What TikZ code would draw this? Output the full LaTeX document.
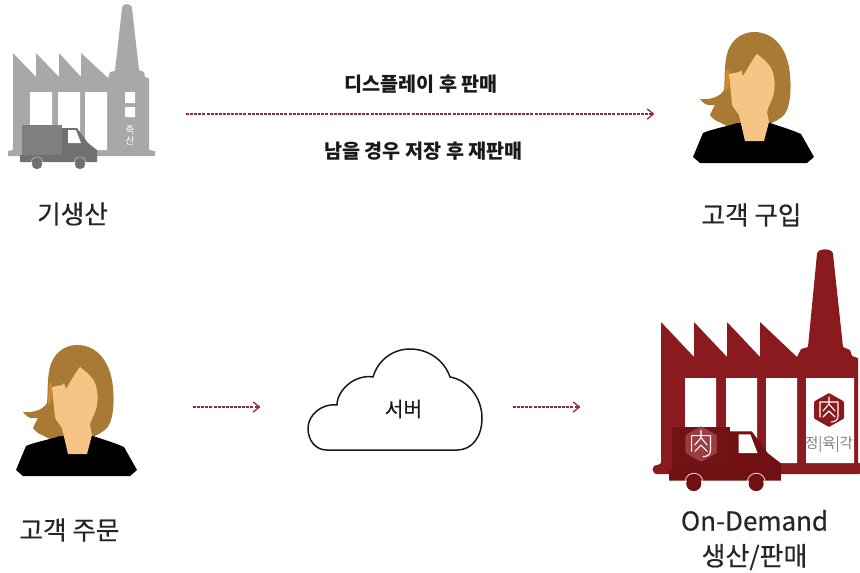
\documentclass[tikz,border=0pt]{standalone}
\usepackage{fontspec}
\setmainfont{Noto Sans CJK KR}
\newfontfamily\medfont[FakeBold=0.5]{Noto Sans CJK KR}
\usetikzlibrary{arrows.meta}
\definecolor{factgray}{HTML}{A8A8A8}
\definecolor{truckgray}{HTML}{7F7F7F}
\definecolor{cabgray}{HTML}{707070}
\definecolor{factred}{HTML}{8A1A1E}
\definecolor{truckred}{HTML}{701012}
\definecolor{cargored}{HTML}{701315}
\definecolor{hair}{HTML}{A87A33}
\definecolor{hairlight}{HTML}{D08A30}
\definecolor{skin}{HTML}{F6C586}
\definecolor{arrowred}{HTML}{8E2F3F}
\tikzset{
  lbl/.style={font=\medfont\fontsize{25.6}{30}\selectfont,text=black!85,align=center,inner sep=0pt},
  small/.style={font=\fontsize{19.6}{24}\selectfont\bfseries,text=black!90,inner sep=0pt},
  flow/.style={draw=arrowred,line width=1.4pt,dash pattern=on 3pt off 1.1pt,-{Straight Barb[length=6pt,width=10pt,line width=1.3pt,round]}},
  cloudline/.style={draw=black!90,line width=1.5pt,fill=white,line join=round}
}
\newcommand{\personicon}{%
  \fill[hair] (754,32) .. controls (740,32) and (730,42) .. (727,54)
    .. controls (724,66) and (725,80) .. (724,90)
    .. controls (720,97) and (710,100) .. (700,99)
    .. controls (703,103) and (706,105) .. (709,105)
    -- (715,105) .. controls (713,109) and (711,112) .. (710,115)
    .. controls (713,119) and (716,121) .. (719,122)
    -- (727,126) -- (770,124)
    .. controls (778,120) and (785,116) .. (787,110)
    .. controls (791,100) and (791,85) .. (790,75)
    .. controls (788,50) and (775,32) .. (754,32) -- cycle;
  \fill[hairlight] (726,70) -- (729,70) -- (729,86) -- (725,92) -- cycle;
  \fill[black] (693,157) -- (703,133) .. controls (712,129) and (725,127) .. (737,123)
    -- (770,123) .. controls (782,127) and (792,130) .. (801,134) -- (814,157)
    -- (807,163) -- (700,163) -- cycle;
  \fill[skin] (757,54) .. controls (765,60) and (770,65) .. (772,70)
    .. controls (775,78) and (775,85) .. (774,92)
    .. controls (773,100) and (768,106) .. (767,112) -- (769,122) -- (764,141) -- (745,141)
    -- (739,115) .. controls (736,110) and (733,108) .. (732,104)
    -- (729,74) -- (739,72) -- (741,70) -- (743,76) .. controls (748,68) and (752,60) .. (757,54) -- cycle;
}
\newcommand{\truckicon}[4]{% body, cargo, ring, window
  \fill[#2] (22,125) rectangle (62,155);
  \fill[#1] (62,128) -- (77,128) -- (88,143) -- (97,150) -- (97,162) -- (20,162) -- (20,155) -- (62,155) -- cycle;
  \fill[#4] (68,130) -- (76,130) -- (81,143) -- (68,143) -- cycle;
  \fill[#1] (37,164) circle (5.2);
  \fill[#1] (80,164) circle (5.2);
  \draw[#3,line width=.9pt] (31,162) arc[start angle=190,end angle=350,radius=6.2];
  \draw[#3,line width=.9pt] (74,162) arc[start angle=190,end angle=350,radius=6.2];
}
\newcommand{\logoicon}[3]{% centre, radius scale, colours
  \begin{scope}[shift={#1},scale=#2]
    \fill[#3,rounded corners=1pt] (0,-17) -- (15,-8.5) -- (15,8.5) -- (0,17) -- (-15,8.5) -- (-15,-8.5) -- cycle;
    \draw[white,line width=1.1pt,line cap=round,line join=round]
      (-9,-8) -- (9,-8) -- (9,6) .. controls (9,10) and (6,12) .. (2,12)
      (-9,-8) -- (-9,7)
      (0,-13) -- (0,-6) (0,-6) -- (-6,1) (0,-6) -- (6,1)
      (0,1) -- (-6,7) (0,1) -- (6,7);
  \end{scope}}
\begin{document}
\begin{tikzpicture}[x=1pt,y=-1pt]
\useasboundingbox (0,0) rectangle (860,573);
% grey factory
\fill[factgray,rounded corners=.6pt] (13,53) -- (36,77) -- (36,53) -- (59,77) -- (59,53) -- (81,77) -- (81,53) -- (108,78)
  -- (110,72) -- (115,71) -- (122,8) .. controls (123,3) and (131,3) .. (132,8)
  -- (139,70) -- (144,72) -- (145,77) -- (149,78) -- (149,150) -- (155,151) -- (155,156) -- (8,156) -- (8,151) -- (13,150) -- cycle;
\fill[white] (30,92) rectangle (52,150) (58,92) rectangle (80,150) (85,92) rectangle (107,150);
\fill[white] (125,92) rectangle (135,103) (125,107) rectangle (135,117);
\node[font=\fontsize{10}{11}\selectfont,text=white,inner sep=0pt,align=center] (chuksan) at (130,135) {축\\[-.5pt]산};
\truckicon{cabgray}{truckgray}{factgray}{white}
% red factory
\fill[factred,rounded corners=.6pt] (661,322) -- (694,357) -- (694,322) -- (727,357) -- (727,322) -- (760,357) -- (760,322) -- (797,357)
  -- (801,349) -- (808,347) -- (817,254) .. controls (818,248) and (832,248) .. (833,254)
  -- (843,347) -- (850,350) -- (852,356) -- (858,358) -- (858,463) -- (860,463) -- (860,474) -- (658,474) .. controls (651,474) and (651,465) .. (658,465) -- (661,463) -- cycle;
\fill[white] (685,378) rectangle (716,463) (726,378) rectangle (757,463) (766,378) rectangle (797,463) (806,378) rectangle (854,463);
\logoicon{(829,410)}{1}{factred}
\node[font=\fontsize{14.5}{16}\selectfont,text=black!50,inner sep=0pt] (jeongyukgak) at (829,444) {정|육|각};
\begin{scope}[shift={(672,427)},scale=1.45,shift={(-22,-125)}]
  \truckicon{truckred}{cargored}{white!75!factred}{white}
\end{scope}
\logoicon{(701,444)}{1.05}{factred!85!white}
% people
\personicon
\begin{scope}[shift={(-677,313)}]\personicon\end{scope}
% cloud
\draw[cloudline] (327,450) .. controls (315,450) and (308,440) .. (308,428)
  .. controls (308,415) and (322,403) .. (337,405)
  .. controls (337,390) and (355,374) .. (373,377)
  .. controls (378,360) and (393,349) .. (410,349)
  .. controls (430,349) and (445,362) .. (450,377)
  .. controls (468,380) and (482,398) .. (482,418)
  .. controls (482,437) and (472,450) .. (457,450) -- cycle;
\node[inner sep=0pt,text=black!90,font=\medfont\fontsize{20.4}{24}\selectfont] (server) at (403.5,409) {서버};
% labels
\node[small] (disp) at (421,84) {디스플레이 후 판매};
\node[small] (resale) at (423.5,151) {남을 경우 저장 후 재판매};
\node[lbl] (l1) at (72.5,214) {기생산};
\node[lbl] (l2) at (751.5,215) {고객 구입};
\node[lbl] (l3) at (69.5,530) {고객 주문};
\node[lbl,font=\medfont\fontsize{26}{35}\selectfont] (l4) at (754.5,540) {On-Demand\\생산/판매};
% arrows
\coordinate (a1) at (186,114); \coordinate (a2) at (654,114);
\coordinate (b1) at (193,407); \coordinate (b2) at (260,407);
\coordinate (c1) at (513,407); \coordinate (c2) at (580,407);
\draw[flow] (a1) -- (a2);
\draw[flow] (b1) -- (b2);
\draw[flow] (c1) -- (c2);
\end{tikzpicture}
\end{document}
